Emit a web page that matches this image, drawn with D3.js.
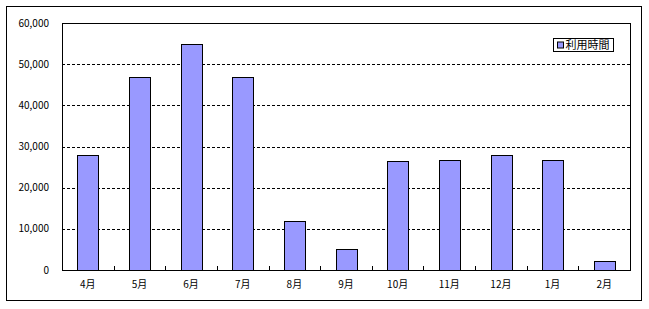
<!DOCTYPE html>
<html>
<head>
<meta charset="utf-8">
<script src="https://cdn.jsdelivr.net/npm/d3@7"></script>
<style>
  body { margin: 0; background: #fff; }
  svg { display: block; font-family: "Noto Sans CJK JP", "DejaVu Sans", sans-serif; }
  .grid line { stroke: #000; stroke-dasharray: 3,2; shape-rendering: crispEdges; }
  .grid .domain { display: none; }
</style>
</head>
<body>
<svg width="649" height="309"></svg>
<script>
// chart data
var months = ["4月", "5月", "6月", "7月", "8月", "9月", "10月", "11月", "12月", "1月", "2月"];
var hours = [27900, 47000, 55000, 47000, 11800, 5000, 26400, 26700, 27900, 26700, 2200];
var yTicks = [0, 10000, 20000, 30000, 40000, 50000, 60000];
var seriesName = "利用時間";

var svg = d3.select("svg"),
    margin = {top: 23, right: 19, bottom: 39, left: 62},
    width = 649 - margin.left - margin.right,
    height = 309 - margin.top - margin.bottom;

// outer frame
svg.append("rect")
    .attr("x", 6.5).attr("y", 6.5)
    .attr("width", 635).attr("height", 294)
    .attr("fill", "none").attr("stroke", "#000").attr("stroke-width", 1);

var g = svg.append("g").attr("transform", "translate(" + margin.left + "," + margin.top + ")");

var x = d3.scaleBand()
    .domain(months)
    .range([0, width])
    .paddingInner(0.6)
    .paddingOuter(0.3);

var y = d3.scaleLinear()
    .domain([0, 60000])
    .range([height, 0]);

var fmt = d3.format(",");

// dashed gridlines
g.append("g")
    .attr("class", "grid")
    .call(d3.axisLeft(y)
        .tickValues(yTicks.filter(function(d) { return d > 0 && d < 60000; }))
        .tickSize(-width)
        .tickFormat(""));

// y labels
g.selectAll(".ylab")
    .data(yTicks)
    .enter().append("text")
    .attr("class", "ylab")
    .attr("x", -13)
    .attr("y", function(d) { return y(d); })
    .attr("dy", "0.35em")
    .attr("text-anchor", "end")
    .attr("font-size", 10)
    .text(function(d) { return fmt(d); });

// bars
g.selectAll(".bar")
    .data(hours)
    .enter().append("rect")
    .attr("class", "bar")
    .attr("x", function(d, i) { return Math.round(x(months[i])) + 0.5; })
    .attr("y", function(d) { return Math.round(y(d)) + 0.5; })
    .attr("width", Math.round(x.bandwidth()))
    .attr("height", function(d) { return Math.round(height - y(d)); })
    .attr("fill", "#9999ff")
    .attr("stroke", "#000")
    .attr("stroke-width", 1);

// x tick marks between categories (inside, pointing up)
var step = width / months.length;
g.selectAll(".xtick")
    .data(d3.range(1, months.length))
    .enter().append("line")
    .attr("x1", function(d) { return Math.round(d * step) + 0.5; })
    .attr("x2", function(d) { return Math.round(d * step) + 0.5; })
    .attr("y1", height - 4)
    .attr("y2", height)
    .attr("stroke", "#000");

// x labels
g.selectAll(".xlab")
    .data(months)
    .enter().append("text")
    .attr("class", "xlab")
    .attr("x", function(d) { return x(d) + x.bandwidth() / 2; })
    .attr("y", height + 14)
    .attr("dy", "0.35em")
    .attr("text-anchor", "middle")
    .attr("font-size", 10)
    .text(function(d) { return d; });

// plot border
g.append("rect")
    .attr("x", 0.5).attr("y", 0.5)
    .attr("width", width).attr("height", height)
    .attr("fill", "none").attr("stroke", "#000").attr("stroke-width", 1);

// legend
var lg = svg.append("g").attr("transform", "translate(553.5,38.5)");
lg.append("rect")
    .attr("width", 60).attr("height", 13)
    .attr("fill", "#fff").attr("stroke", "#000");
lg.append("rect")
    .attr("x", 4).attr("y", 3.5)
    .attr("width", 6).attr("height", 6)
    .attr("fill", "#9999ff").attr("stroke", "#000");
lg.append("text")
    .attr("x", 12).attr("y", 6.5)
    .attr("dy", "0.35em")
    .attr("font-size", 11)
    .text(seriesName);
</script>
</body>
</html>
